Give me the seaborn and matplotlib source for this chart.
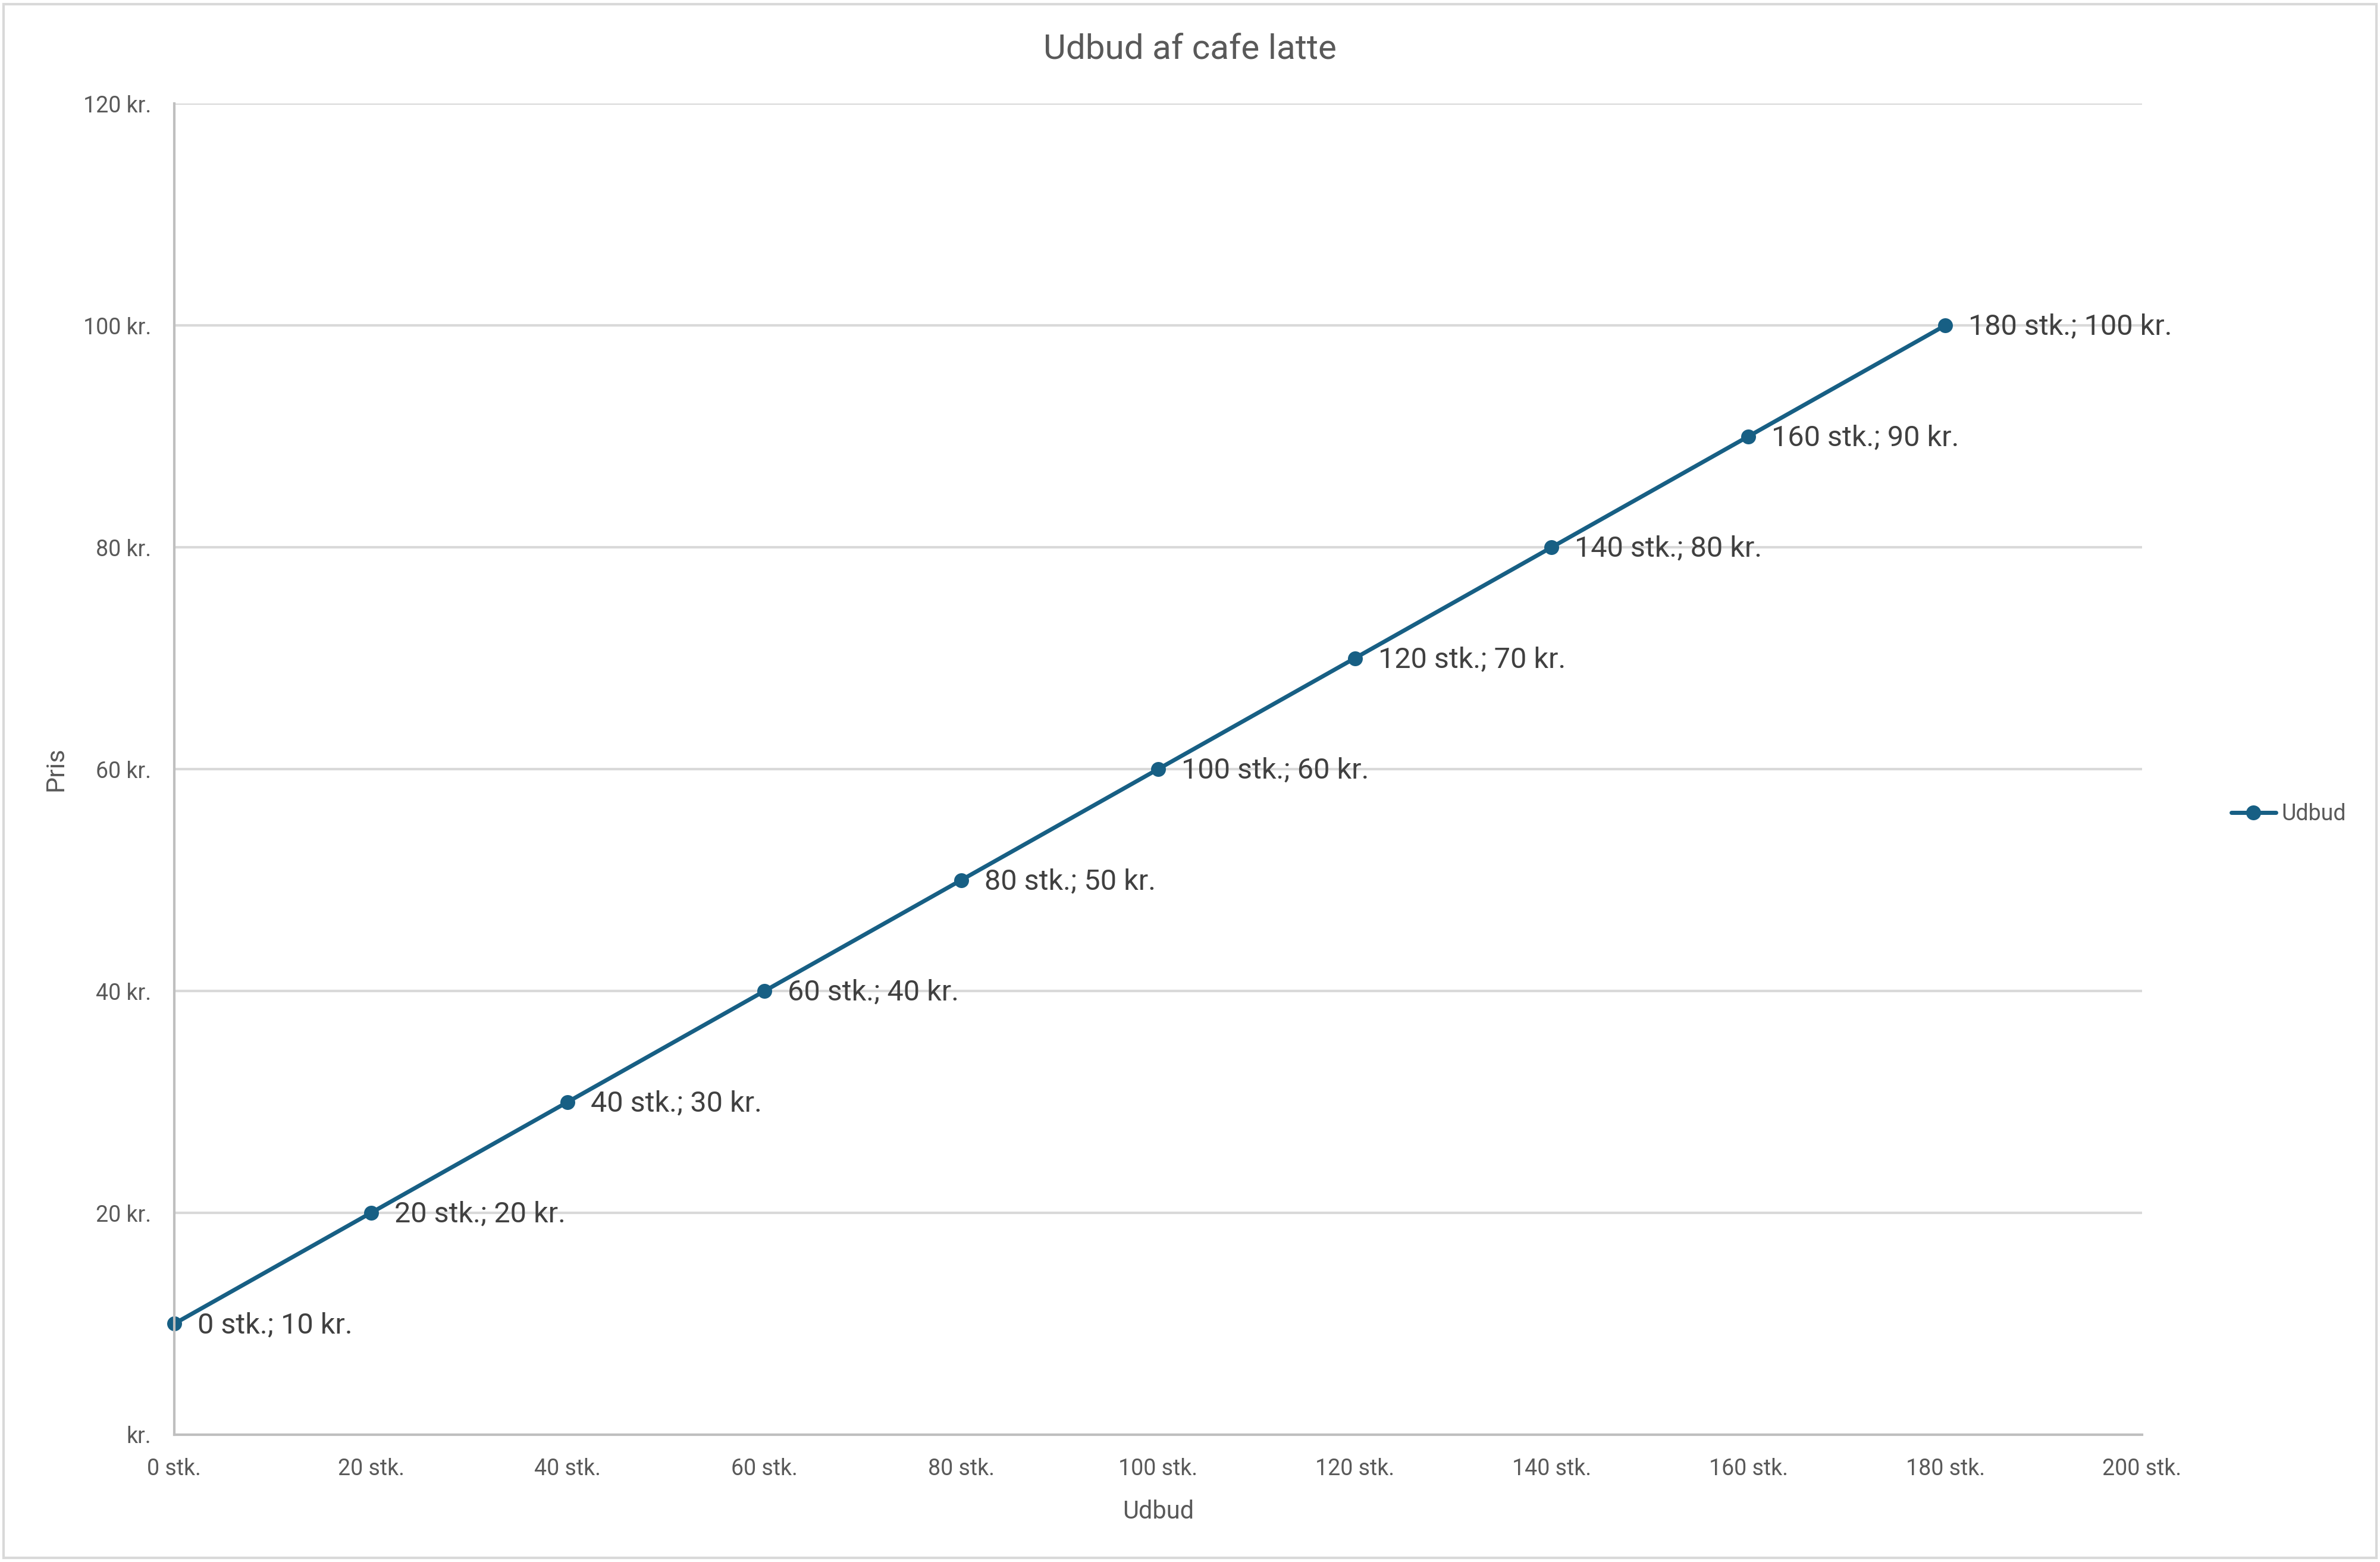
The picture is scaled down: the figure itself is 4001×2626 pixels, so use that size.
import pandas as pd
import matplotlib.pyplot as plt
import seaborn as sns
from matplotlib.patches import Rectangle
from matplotlib.ticker import FixedLocator, FuncFormatter

# data
antal = [0, 20, 40, 60, 80, 100, 120, 140, 160, 180]
pris = [10, 20, 30, 40, 50, 60, 70, 80, 90, 100]
x_ticks = [0, 20, 40, 60, 80, 100, 120, 140, 160, 180, 200]
y_ticks = [0, 20, 40, 60, 80, 100, 120]

df = pd.DataFrame({"Udbud": antal, "Pris": pris})

sns.set_style("white")
plt.rcParams["font.family"] = ["Roboto", "DejaVu Sans"]

line_color = "#175f84"
text_gray = "#595959"

fig = plt.figure(figsize=(20.005, 13.13), dpi=200)
ax = fig.add_axes([0.0732, 0.0815, 0.8268, 0.8522])

sns.lineplot(data=df, x="Udbud", y="Pris", ax=ax, color=line_color,
             linewidth=2.5, marker="o", markersize=9, markeredgewidth=0,
             label="Udbud", legend=False)
for ln in ax.lines:
    ln.set_clip_on(False)

# data labels
for x, y in zip(antal, pris):
    ax.annotate(f"{x} stk.; {y} kr.", (x, y), xytext=(14, -1),
                textcoords="offset points", ha="left", va="center",
                fontsize=17.5, color="#404040")

ax.set_xlim(0, 200)
ax.set_ylim(0, 120)
ax.xaxis.set_major_locator(FixedLocator(x_ticks))
ax.yaxis.set_major_locator(FixedLocator(y_ticks))
ax.xaxis.set_major_formatter(FuncFormatter(lambda v, p: f"{v:.0f} stk."))
ax.yaxis.set_major_formatter(FuncFormatter(lambda v, p: f"{v:.0f} kr." if v else "kr."))
ax.tick_params(axis="both", length=0, labelsize=13.5, labelcolor=text_gray)
ax.tick_params(axis="x", pad=14)
ax.tick_params(axis="y", pad=14)

ax.grid(axis="y", color="#d9d9d9", linewidth=1.5)
ax.set_axisbelow(True)
for side in ["top", "right"]:
    ax.spines[side].set_visible(False)
for side in ["left", "bottom"]:
    ax.spines[side].set_color("#bfbfbf")
    ax.spines[side].set_linewidth(1.5)

ax.set_xlabel("Udbud", fontsize=15, color=text_gray, labelpad=12)
ax.set_ylabel("Pris", fontsize=15.5, color=text_gray)
ax.yaxis.set_label_coords(-0.054, 0.5)
fig.suptitle("Udbud af cafe latte", fontsize=21, color=text_gray, x=0.5, y=0.979)

handles, labels = ax.get_legend_handles_labels()
fig.legend(handles, labels, loc="center left", bbox_to_anchor=(0.929, 0.479),
           frameon=False, fontsize=13.5, labelcolor=text_gray,
           handlelength=2.0, handletextpad=0.25)

# outer chart border
fig.add_artist(Rectangle((0.0015, 0.0025), 0.997, 0.995, transform=fig.transFigure,
                         fill=False, edgecolor="#d9d9d9", linewidth=1.5))

fig.savefig("out.png", dpi=200)
